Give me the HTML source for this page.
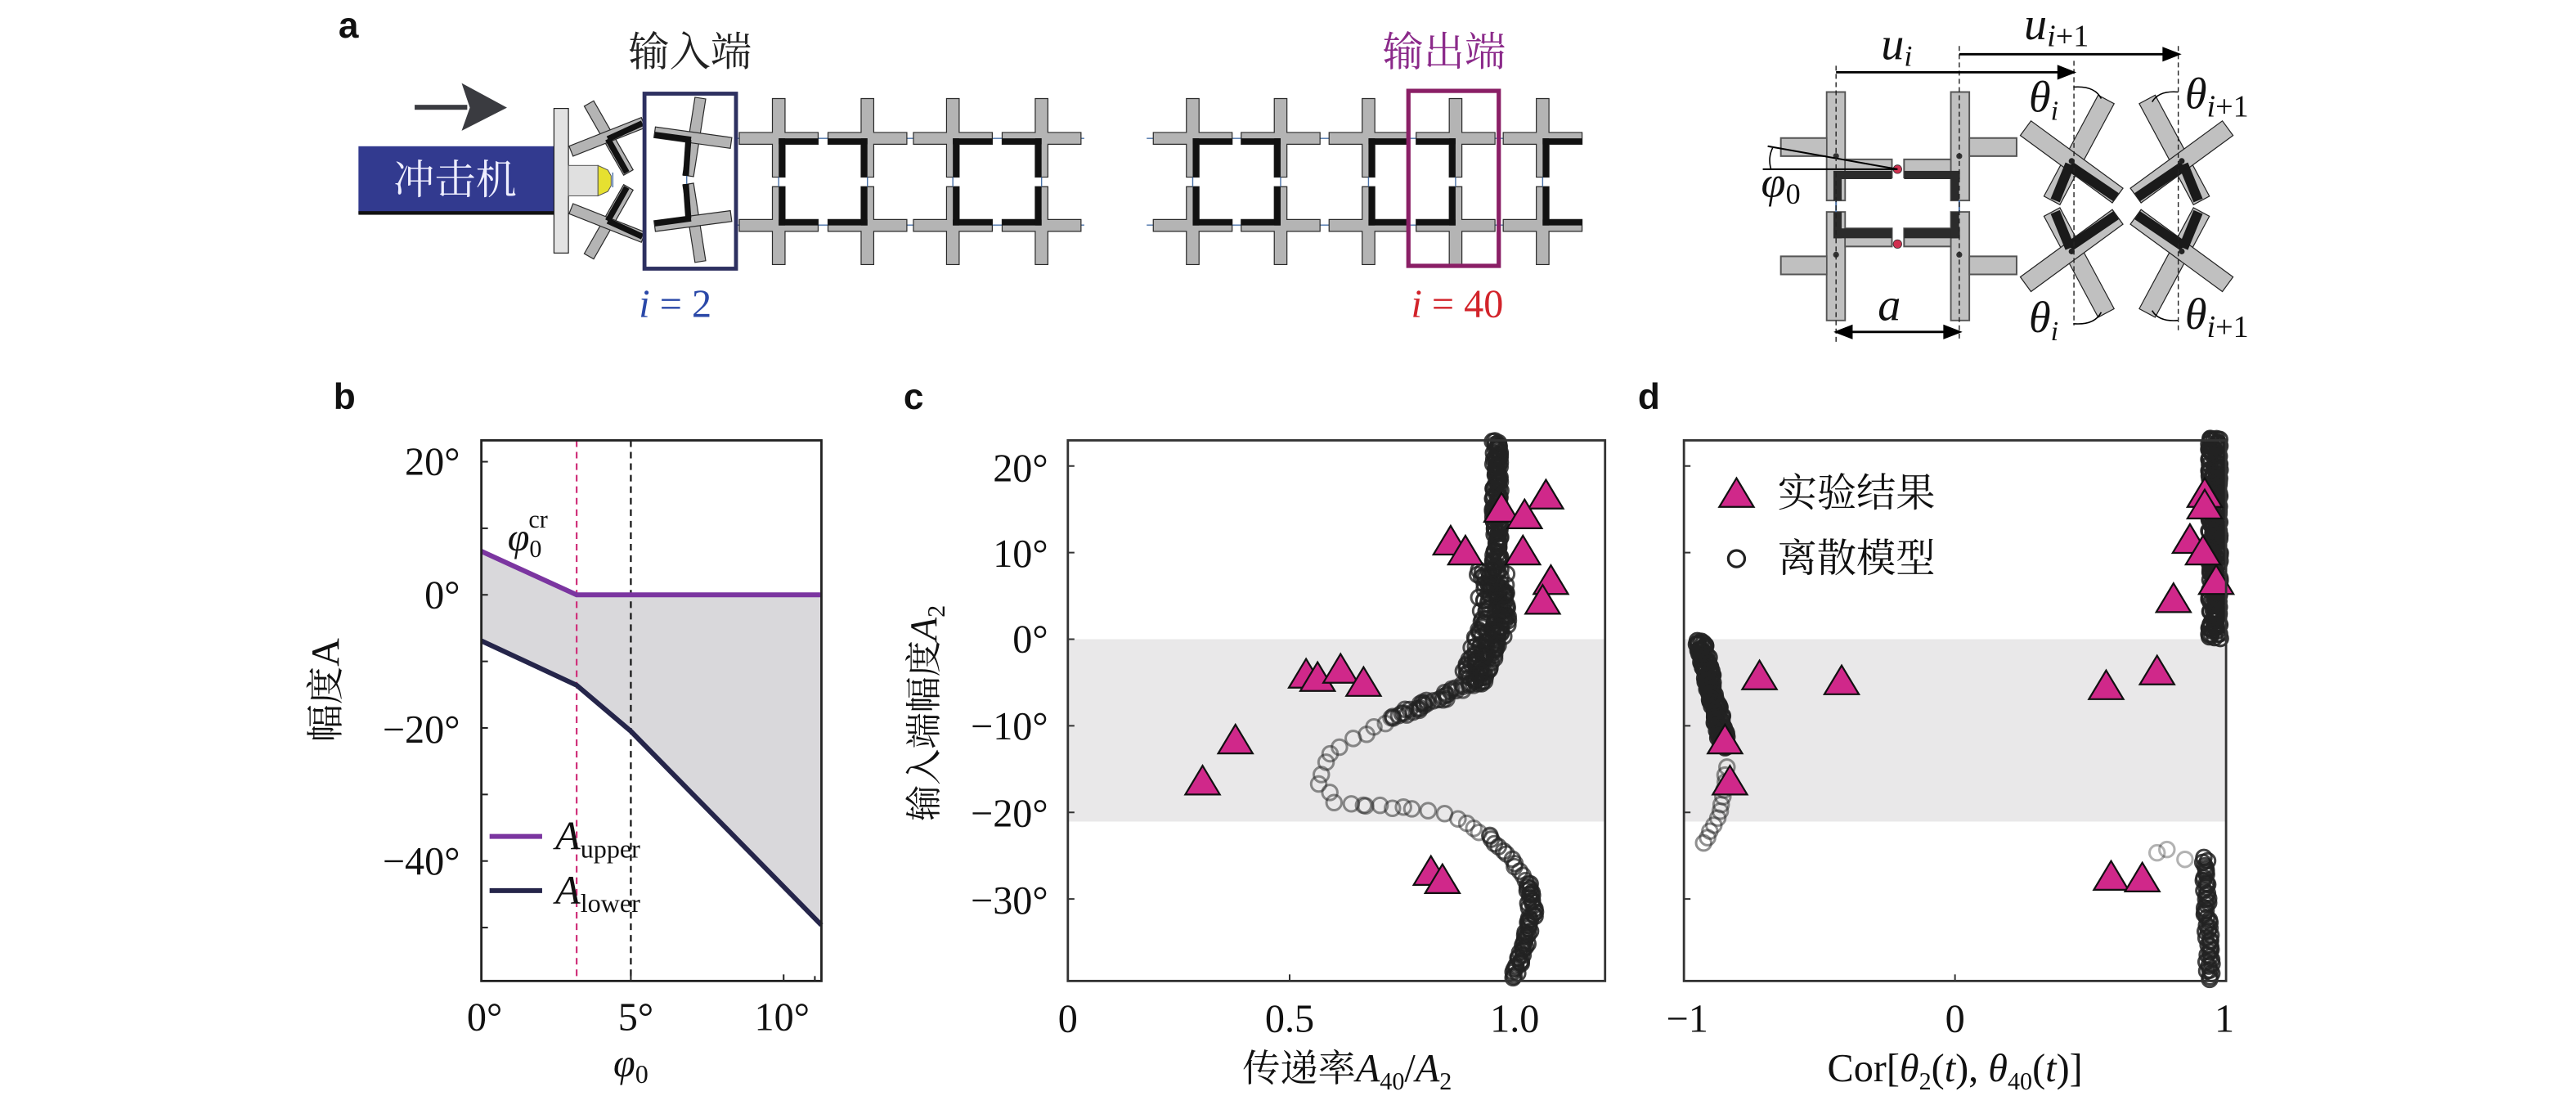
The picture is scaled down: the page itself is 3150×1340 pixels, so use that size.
<!DOCTYPE html>
<html><head><meta charset="utf-8">
<style>html,body{margin:0;padding:0;background:#fff;overflow:hidden}svg{display:block}</style>
</head><body>
<svg id="s" width="3150" height="1340" viewBox="0 0 1568 667" preserveAspectRatio="none" xmlns="http://www.w3.org/2000/svg" font-family="'Liberation Serif','Noto Serif CJK SC',serif">
<rect width="1568" height="667" fill="#fff"/>
<g font-family="'Liberation Sans',sans-serif" font-weight="bold" font-size="22" fill="#111">
<text x="206" y="23">a</text><text x="203" y="249">b</text><text x="550" y="249">c</text><text x="997" y="249">d</text>
</g>
<g id="pa"></g>
<rect x="218.2" y="89" width="119" height="41" fill="#323a8f"/>
<rect x="218.2" y="128.5" width="119" height="2.2" fill="#111"/>
<text x="277" y="118" text-anchor="middle" font-family="'Noto Serif CJK SC',serif" font-size="25" fill="#eef">冲击机</text>
<rect x="337.2" y="66" width="8.8" height="88" fill="#e2e2e2" stroke="#222" stroke-width="0.6"/>
<rect x="346" y="100.7" width="18" height="18.5" fill="#e0e0e0" stroke="#555" stroke-width="0.5"/>
<polygon points="364,100.7 370,103.5 372,107 372,113 370,116.5 364,119.2" fill="#e6e030" stroke="#555" stroke-width="0.5"/>
<rect x="252.4" y="63.8" width="32" height="3" fill="#3a3b40"/>
<polygon points="281,50.6 308.6,65.5 281,79.6 286,65.5" fill="#3a3b40"/>
<rect x="392.3" y="57" width="55.7" height="106.5" fill="none" stroke="#2d3060" stroke-width="2.4"/>
<rect x="857.3" y="55.3" width="55" height="106.5" fill="none" stroke="#8a1f66" stroke-width="2.6"/>
<text x="420" y="40" text-anchor="middle" font-family="'Noto Serif CJK SC',serif" font-size="25" fill="#222">输入端</text>
<text x="879" y="40" text-anchor="middle" font-family="'Noto Serif CJK SC',serif" font-size="25" fill="#8b2a8a">输出端</text>
<text x="411" y="193" text-anchor="middle" font-size="24" fill="#2a48a8"><tspan font-style="italic">i</tspan> = 2</text>
<text x="887" y="193" text-anchor="middle" font-size="24" fill="#d2232a"><tspan font-style="italic">i</tspan> = 40</text>

<g id="sch"></g>
<g stroke="#222" stroke-width="0.7" stroke-dasharray="3 2" fill="none">
<line x1="1117.6" y1="40" x2="1117.6" y2="208"/><line x1="1192.6" y1="28" x2="1192.6" y2="207"/>
<line x1="1262.4" y1="37" x2="1262.4" y2="198"/><line x1="1325.9" y1="28" x2="1325.9" y2="201"/>
</g>
<g stroke="#000" stroke-width="1.4" fill="#000">
<line x1="1117.6" y1="44" x2="1256" y2="44"/><polygon points="1262,44 1253,40.5 1253,47.5"/>
<line x1="1192.6" y1="33" x2="1320" y2="33"/><polygon points="1326,33 1317,29.5 1317,36.5"/>
<line x1="1124" y1="202" x2="1186" y2="202"/><polygon points="1118,202 1127,198.5 1127,205.5"/><polygon points="1192.6,202 1183.6,198.5 1183.6,205.5"/>
</g>
<g font-style="italic" fill="#111">
<text x="1145" y="36" font-size="28">u<tspan font-size="18" dy="4">i</tspan></text>
<text x="1232" y="24" font-size="28">u<tspan font-size="19" dy="4" font-style="normal"><tspan font-style="italic">i</tspan>+1</tspan></text>
<text x="1143" y="195" font-size="28">a</text>
<text x="1072" y="120" font-size="27">φ<tspan font-size="18" dy="4" font-style="normal">0</tspan></text>
<text x="1235" y="68" font-size="27">θ<tspan font-size="17" dy="5">i</tspan></text>
<text x="1330" y="66" font-size="27">θ<tspan font-size="19" dy="5" font-style="normal"><tspan font-style="italic">i</tspan>+1</tspan></text>
<text x="1235" y="202" font-size="27">θ<tspan font-size="17" dy="5">i</tspan></text>
<text x="1330" y="200" font-size="27">θ<tspan font-size="19" dy="5" font-style="normal"><tspan font-style="italic">i</tspan>+1</tspan></text>
</g>

<polygon points="293,335.5 351,362 500,362 500,563 384,445 351,417 293,390" fill="#d9d8db"/>
<line x1="351" y1="268" x2="351" y2="597" stroke="#d0307a" stroke-width="1.1" stroke-dasharray="4 3"/>
<line x1="384" y1="268" x2="384" y2="597" stroke="#111" stroke-width="1.1" stroke-dasharray="4 3"/>
<polyline points="293,335.5 351,362 500,362" fill="none" stroke="#7b35a0" stroke-width="3"/>
<polyline points="293,390 351,417 384,445 500,563" fill="none" stroke="#25254a" stroke-width="3"/>
<rect x="293" y="268" width="207" height="329" fill="none" stroke="#222" stroke-width="1.4"/>
<g stroke="#222" stroke-width="1">
<line x1="293" y1="281" x2="297" y2="281"/><line x1="293" y1="321.5" x2="297" y2="321.5"/><line x1="293" y1="362" x2="297" y2="362"/>
<line x1="293" y1="402.5" x2="297" y2="402.5"/><line x1="293" y1="443" x2="297" y2="443"/><line x1="293" y1="483.5" x2="297" y2="483.5"/>
<line x1="293" y1="524" x2="297" y2="524"/><line x1="293" y1="564.5" x2="297" y2="564.5"/>
<line x1="384" y1="597" x2="384" y2="593"/><line x1="477" y1="597" x2="477" y2="593"/><line x1="496" y1="597" x2="496" y2="594"/>
</g>
<g font-size="24" fill="#111" text-anchor="end">
<text x="280" y="289">20°</text><text x="280" y="370">0°</text><text x="280" y="452">−20°</text><text x="280" y="532">−40°</text>
</g>
<g font-size="24" fill="#111" text-anchor="middle">
<text x="295" y="627">0°</text><text x="387" y="627">5°</text><text x="476" y="627">10°</text>
</g>
<text x="384" y="655" text-anchor="middle" font-size="24" font-style="italic" fill="#111">φ<tspan font-size="16" dy="4" font-style="normal">0</tspan></text>
<text x="309" y="335" font-size="24" font-style="italic" fill="#111">φ<tspan font-size="15" dy="4" font-style="normal">0</tspan><tspan font-size="15" dx="-8" dy="-18" font-style="normal">cr</tspan></text>
<text transform="translate(206,420) rotate(-90)" text-anchor="middle" font-size="23" fill="#111" font-family="'Noto Serif CJK SC',serif">幅度<tspan font-family="'Liberation Serif',serif" font-size="24">A</tspan></text>
<line x1="298" y1="509" x2="330" y2="509" stroke="#7b35a0" stroke-width="3"/>
<line x1="298" y1="542" x2="330" y2="542" stroke="#25254a" stroke-width="3"/>
<text x="338" y="517" font-size="25" font-style="italic" fill="#111">A<tspan font-size="16" dy="5" font-style="normal">upper</tspan></text>
<text x="338" y="550" font-size="25" font-style="italic" fill="#111">A<tspan font-size="16" dy="5" font-style="normal">lower</tspan></text>

<rect x="650" y="389" width="327" height="111" fill="#e9e8e9"/>
<g id="pc"></g>
<rect x="650" y="268" width="327" height="329" fill="none" stroke="#333" stroke-width="1.4"/>
<g stroke="#333" stroke-width="1">
<line x1="650" y1="283.6" x2="654" y2="283.6"/><line x1="650" y1="336.3" x2="654" y2="336.3"/><line x1="650" y1="389" x2="654" y2="389"/>
<line x1="650" y1="441.7" x2="654" y2="441.7"/><line x1="650" y1="494.4" x2="654" y2="494.4"/><line x1="650" y1="547.1" x2="654" y2="547.1"/>
<line x1="785" y1="597" x2="785" y2="593"/>
</g>
<g font-size="24" fill="#111" text-anchor="end">
<text x="638" y="293">20°</text><text x="638" y="345">10°</text><text x="638" y="397">0°</text>
<text x="638" y="450">−10°</text><text x="638" y="503">−20°</text><text x="638" y="556">−30°</text>
</g>
<g font-size="24" fill="#111" text-anchor="middle">
<text x="650" y="628">0</text><text x="785" y="628">0.5</text><text x="922" y="628">1.0</text>
</g>
<text x="820" y="658" text-anchor="middle" font-size="23" fill="#111" font-family="'Noto Serif CJK SC',serif">传递率<tspan font-family="'Liberation Serif',serif" font-style="italic" font-size="24">A</tspan><tspan font-family="'Liberation Serif',serif" font-size="15" dy="5">40</tspan><tspan font-family="'Liberation Serif',serif" font-size="24" dy="-5">/</tspan><tspan font-family="'Liberation Serif',serif" font-style="italic" font-size="24">A</tspan><tspan font-family="'Liberation Serif',serif" font-size="15" dy="5">2</tspan></text>
<text transform="translate(570,434) rotate(-90)" text-anchor="middle" font-size="22" fill="#111" font-family="'Noto Serif CJK SC',serif">输入端幅度<tspan font-family="'Liberation Serif',serif" font-style="italic" font-size="23">A</tspan><tspan font-family="'Liberation Serif',serif" font-size="15" dy="5">2</tspan></text>

<rect x="1025" y="389" width="330" height="111" fill="#e9e8e9"/>
<g id="pd"></g>
<rect x="1025" y="268" width="330" height="329" fill="none" stroke="#333" stroke-width="1.4"/>
<g stroke="#333" stroke-width="1">
<line x1="1025" y1="283.6" x2="1029" y2="283.6"/><line x1="1025" y1="336.3" x2="1029" y2="336.3"/>
<line x1="1025" y1="441.7" x2="1029" y2="441.7"/><line x1="1025" y1="494.4" x2="1029" y2="494.4"/><line x1="1025" y1="547.1" x2="1029" y2="547.1"/>
<line x1="1190" y1="597" x2="1190" y2="593"/>
</g>
<g font-size="24" fill="#111" text-anchor="middle">
<text x="1027" y="628">−1</text><text x="1190" y="628">0</text><text x="1354" y="628">1</text>
</g>
<text x="1190" y="658" text-anchor="middle" font-size="24" fill="#111">Cor[<tspan font-style="italic">θ</tspan><tspan font-size="15" dy="5">2</tspan><tspan dy="-5">(</tspan><tspan font-style="italic">t</tspan>), <tspan font-style="italic">θ</tspan><tspan font-size="15" dy="5">40</tspan><tspan dy="-5">(</tspan><tspan font-style="italic">t</tspan>)]</text>
<g font-family="'Noto Serif CJK SC',serif" font-size="24" fill="#111">
<text x="1082" y="308">实验结果</text><text x="1082" y="348">离散模型</text>
</g>
</svg>
<script>
(function(){
var NS="http://www.w3.org/2000/svg";
function el(p,tag,a){var e=document.createElementNS(NS,tag);for(var k in a)e.setAttribute(k,a[k]);p.appendChild(e);return e;}
var seed=7;function rnd(){seed=(seed*16807)%2147483647;return (seed-1)/2147483646;}
function bar(p,x1,y1,x2,y2,w,fill,stroke){var dx=x2-x1,dy=y2-y1,L=Math.sqrt(dx*dx+dy*dy),nx=-dy/L*w/2,ny=dx/L*w/2;
 el(p,'polygon',{points:[x1+nx,y1+ny,x2+nx,y2+ny,x2-nx,y2-ny,x1-nx,y1-ny].join(' '),fill:fill,stroke:stroke||'none','stroke-width':0.6});}
var pa=document.getElementById('pa');
var G='#b4b4b4',K='#111',ST='#2a2a2a';
function crossA(cx,right){
 var a=3.85;
 el(pa,'path',{d:'M'+(cx-a)+',60 H'+(cx+a)+' V80.6 H'+(cx+24)+' V87.8 H'+(cx+a)+' V107.8 H'+(cx-a)+' V87.8 H'+(cx-24)+' V80.6 H'+(cx-a)+' Z',fill:G,stroke:ST,'stroke-width':0.6});
 el(pa,'path',{d:'M'+(cx-a)+',113.6 H'+(cx+a)+' V133.6 H'+(cx+24)+' V140.8 H'+(cx+a)+' V161 H'+(cx-a)+' V140.8 H'+(cx-24)+' V133.6 H'+(cx-a)+' Z',fill:G,stroke:ST,'stroke-width':0.6});
 var hx=right?cx:cx-24, vx=right?cx:cx-a;
 el(pa,'rect',{x:hx,y:84.2,width:24,height:3.6,fill:K});
 el(pa,'rect',{x:vx,y:84.2,width:a,height:23.6,fill:K});
 el(pa,'rect',{x:hx,y:133.6,width:24,height:3.6,fill:K});
 el(pa,'rect',{x:vx,y:113.6,width:a,height:23.6,fill:K});
 el(pa,'line',{x1:cx,y1:107.8,x2:cx,y2:113.6,stroke:'#4a72a8','stroke-width':0.7});
}
el(pa,'line',{x1:448,y1:84.2,x2:660,y2:84.2,stroke:'#4a72a8','stroke-width':0.7});
el(pa,'line',{x1:448,y1:137,x2:660,y2:137,stroke:'#4a72a8','stroke-width':0.7});
el(pa,'line',{x1:698,y1:84.2,x2:960,y2:84.2,stroke:'#4a72a8','stroke-width':0.7});
el(pa,'line',{x1:698,y1:137,x2:960,y2:137,stroke:'#4a72a8','stroke-width':0.7});
[474,528,580,634].forEach(function(c,i){crossA(c,i%2==0);});
[726,779.5,833,886,939].forEach(function(c,i){crossA(c,i%2==0);});
function rc(p,c,ends,blk,w){
 bar(p,ends[0][0],ends[0][1],ends[0][2],ends[0][3],w,G,ST);
 bar(p,ends[1][0],ends[1][1],ends[1][2],ends[1][3],w,G,ST);
 blk.forEach(function(b){bar(p,b[0],b[1],b[2],b[3],w*0.55,K);});
}
rc(pa,0,[[358.5,63,382.5,105],[347.6,92,391.6,74.6]],[[370,84.6,391,75],[370,84.6,381.5,105]],6.6);
rc(pa,0,[[358.5,156,382.5,114],[347.6,127,391.6,144.4]],[[370,134.4,391,144],[370,134.4,381.5,114]],6.6);
rc(pa,0,[[426.3,59.7,418.9,107],[398.5,80.5,445,87]],[[398.5,82,420.6,85],[419,85,417.5,107]],6.6);
rc(pa,0,[[418.9,112,426.3,159.2],[398.5,137.6,445,131.5]],[[398.5,136,420.6,133],[419,133,417.5,112]],6.6);
el(pa,'line',{x1:373,y1:105,x2:373,y2:114,stroke:'#4a72a8','stroke-width':0.7});
el(pa,'line',{x1:418,y1:107,x2:418,y2:112,stroke:'#4a72a8','stroke-width':0.7});
var sc=document.getElementById('sch');
function scross(vx,vy1,vy2,arms,blk){
 el(sc,'rect',{x:vx,y:vy1,width:11.2,height:vy2-vy1,fill:'#c0c0c0',stroke:'#555','stroke-width':1});
 arms.forEach(function(r){el(sc,'rect',{x:r[0],y:r[1],width:r[2],height:r[3],fill:'#c0c0c0',stroke:'#555','stroke-width':1});});
 el(sc,'rect',{x:vx+0.5,y:vy1+0.5,width:10.2,height:vy2-vy1-1,fill:'#c0c0c0'});
 blk.forEach(function(r){el(sc,'rect',{x:r[0],y:r[1],width:r[2],height:r[3],fill:'#2b2b2b'});});
}
scross(1111.9,56,122,[[1084,84,28,11],[1123,97,28.6,11]],[[1116,104,35.6,5],[1116,104,5,18]]);
scross(1187.5,56,122,[[1198.7,84,28.8,11],[1159,97,28.5,11]],[[1159,104,34,5],[1187.5,104,5,18]]);
scross(1111.9,129,195,[[1084,156,28,11],[1123,139,28.6,11]],[[1116,139,35.6,6],[1116,129,5,16]]);
scross(1187.5,129,195,[[1198.7,156,28.8,11],[1159,139,28.5,11]],[[1159,139,34,6],[1187.5,129,5,16]]);
el(sc,'line',{x1:1117.6,y1:122,x2:1117.6,y2:129,stroke:'#4a72a8','stroke-width':1});
el(sc,'line',{x1:1192.6,y1:122,x2:1192.6,y2:129,stroke:'#4a72a8','stroke-width':1});
el(sc,'circle',{cx:1155,cy:103,r:2.6,fill:'#d03050',stroke:'#333','stroke-width':0.4});
el(sc,'circle',{cx:1155,cy:148.5,r:2.6,fill:'#d03050',stroke:'#333','stroke-width':0.4});
el(sc,'circle',{cx:1117.6,cy:95,r:1.8,fill:'#333'});el(sc,'circle',{cx:1192.6,cy:95,r:1.8,fill:'#333'});
el(sc,'circle',{cx:1117.6,cy:155,r:1.8,fill:'#333'});el(sc,'circle',{cx:1192.6,cy:155,r:1.8,fill:'#333'});
el(sc,'line',{x1:1073,y1:103,x2:1155,y2:103,stroke:'#000','stroke-width':1});
el(sc,'line',{x1:1076,y1:89,x2:1155,y2:103,stroke:'#000','stroke-width':1});
el(sc,'path',{d:'M1078,103 Q1076,96 1079,90',fill:'none',stroke:'#000','stroke-width':0.8});
function rot(tx,ty,sx,sy){
 var g=el(sc,'g',{transform:'translate('+tx+','+ty+') scale('+sx+','+sy+')'});
 bar(g,21,-37.5,-12,24,11,'#c0c0c0','#222');
 bar(g,-28,-20,28,21,11,'#c0c0c0','#222');
 bar(g,-1,2,-10,24,6,'#1a1a1a');
 bar(g,-1,3,27,22,6,'#1a1a1a');
 el(g,'circle',{cx:0,cy:0,r:1.8,fill:'#222'});
}
rot(1261,98,1,1);rot(1261,153,1,-1);rot(1328,98,-1,1);rot(1328,153,-1,-1);
el(sc,'path',{d:'M1262,53 Q1275,52 1279,60',fill:'none',stroke:'#000','stroke-width':0.8});
el(sc,'path',{d:'M1325.9,56 Q1314,55 1310,62',fill:'none',stroke:'#000','stroke-width':0.8});
el(sc,'path',{d:'M1262,197 Q1275,198 1279,190',fill:'none',stroke:'#000','stroke-width':0.8});
el(sc,'path',{d:'M1325.9,195 Q1314,196 1310,189',fill:'none',stroke:'#000','stroke-width':0.8});
function ring(p,x,y,op){el(p,'circle',{cx:x,cy:y,r:4.6,fill:'none',stroke:'#222','stroke-width':1.5,'stroke-opacity':op});}
function path(p,pts,step,jit,op){
 for(var i=0;i<pts.length-1;i++){var a=pts[i],b=pts[i+1],dx=b[0]-a[0],dy=b[1]-a[1],L=Math.sqrt(dx*dx+dy*dy),n=Math.max(1,Math.round(L/step));
  for(var j=0;j<n;j++){var t=j/n;ring(p,a[0]+dx*t+(rnd()-0.5)*2*jit,a[1]+dy*t+(rnd()-0.5)*jit*0.6,op);}}
 var z=pts[pts.length-1];ring(p,z[0],z[1],op);
}
function tri(p,x,y){el(p,'polygon',{points:(x)+','+(y-10)+' '+(x+10.5)+','+(y+7.5)+' '+(x-10.5)+','+(y+7.5),fill:'#d0288a',stroke:'#111','stroke-width':1.1});}
var pc=document.getElementById('pc');
path(pc,[[911,268],[911,348]],0.7,2.5,0.85);
path(pc,[[908,348],[910,380],[902,400],[895,416]],0.4,9,0.8);
path(pc,[[895,416],[876,425],[848,437]],1.5,4,0.7);
path(pc,[[848,437],[823,449],[806,464],[803,477],[814,489],[840,491],[862,492],[885,498],[907,509]],7,3,0.5);
path(pc,[[907,509],[918,520],[930,538]],3,2,0.7);
path(pc,[[930,538],[933,556],[927,580],[921,595]],1.2,2,0.85);
[[914,310],[941,302],[928,314],[883,330],[892,336],[927,336],[944,354],[939,366],[795,411],[802,413],[816,408],[830,416],[752,451],[732,476],[871,531],[878,536]].forEach(function(t){tri(pc,t[0],t[1]);});
var pd=document.getElementById('pd');
path(pd,[[1348,266],[1348,388]],0.5,3.5,0.9);
path(pd,[[1035,390],[1050,455]],0.5,3,0.9);
path(pd,[[1051,467],[1049,485],[1045,498],[1041,506],[1037,513]],5,1,0.5);
[[1313,519],[1319,517],[1330,523]].forEach(function(q){ring(pd,q[0],q[1],0.35);});
path(pd,[[1342,522],[1345,596]],1.5,2,0.85);
[[1071,412],[1121,415],[1282,418],[1313,409],[1323,365],[1342,301],[1342,308],[1333,329],[1341,336],[1349,354],[1050,451],[1053,476],[1285,534],[1304,535]].forEach(function(t){tri(pd,t[0],t[1]);});
tri(pd,1057,301);
el(pd,'circle',{cx:1057,cy:340,r:5,fill:'none',stroke:'#222','stroke-width':1.6});
})();
</script>
</body></html>
